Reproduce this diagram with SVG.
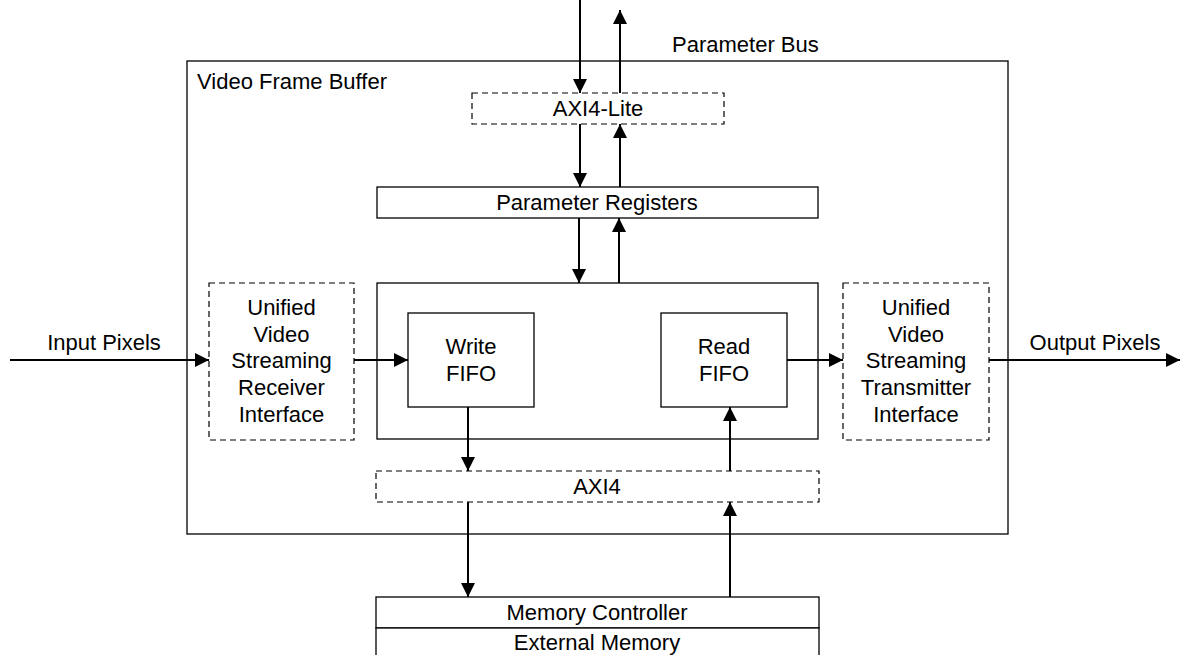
<svg xmlns="http://www.w3.org/2000/svg" width="1180" height="655" viewBox="0 0 1180 655">
  <defs>
    <marker id="arrow" viewBox="0 0 14 14" refX="14" refY="7" markerWidth="14" markerHeight="14" markerUnits="userSpaceOnUse" orient="auto">
      <path d="M0,0 L14,7 L0,14 Z" fill="#000"/>
    </marker>
    <style>
      .box { fill: #fff; stroke: #000; stroke-width: 1.3; }
      .dash { fill: #fff; stroke: #000; stroke-width: 1.2; stroke-dasharray: 6 4; }
      .frame { fill: none; stroke: #000; stroke-width: 1.3; }
      .wire { fill: none; stroke: #000; stroke-width: 2; marker-end: url(#arrow); }
      text { font-family: "Liberation Sans", Arial, sans-serif; font-size: 22px; fill: #000; }
      .c { text-anchor: middle; }
    </style>
  </defs>
  <rect width="1180" height="655" fill="#fff"/>

  <!-- enclosing block -->
  <g id="video-frame-buffer">
    <rect class="frame" x="187" y="61" width="821" height="473"/>
    <text x="197" y="89">Video Frame Buffer</text>
  </g>

  <g id="axi4-lite">
    <rect class="dash" x="472" y="93" width="252" height="31"/>
    <text class="c" x="598" y="116">AXI4-Lite</text>
  </g>

  <g id="parameter-registers">
    <rect class="box" x="377" y="187" width="441" height="31"/>
    <text class="c" x="597" y="210">Parameter Registers</text>
  </g>

  <g id="core">
    <rect class="box" x="377" y="283" width="441" height="156"/>
  </g>

  <g id="write-fifo">
    <rect class="box" x="408" y="313" width="126" height="94"/>
    <text class="c" x="471" y="354">Write</text>
    <text class="c" x="471" y="381">FIFO</text>
  </g>

  <g id="read-fifo">
    <rect class="box" x="661" y="313" width="126" height="94"/>
    <text class="c" x="724" y="354">Read</text>
    <text class="c" x="724" y="381">FIFO</text>
  </g>

  <g id="receiver">
    <rect class="dash" x="209" y="283" width="145" height="157"/>
    <text class="c" x="281.5" y="315">Unified</text>
    <text class="c" x="281.5" y="342">Video</text>
    <text class="c" x="281.5" y="368">Streaming</text>
    <text class="c" x="281.5" y="395">Receiver</text>
    <text class="c" x="281.5" y="422">Interface</text>
  </g>

  <g id="transmitter">
    <rect class="dash" x="843" y="283" width="146" height="157"/>
    <text class="c" x="916" y="315">Unified</text>
    <text class="c" x="916" y="342">Video</text>
    <text class="c" x="916" y="368">Streaming</text>
    <text class="c" x="916" y="395">Transmitter</text>
    <text class="c" x="916" y="422">Interface</text>
  </g>

  <g id="axi4">
    <rect class="dash" x="376" y="471" width="443" height="31"/>
    <text class="c" x="597" y="494">AXI4</text>
  </g>

  <g id="memory-controller">
    <rect class="box" x="376" y="597" width="443" height="31"/>
    <text class="c" x="597" y="620">Memory Controller</text>
  </g>

  <g id="external-memory">
    <rect class="box" x="376" y="628" width="443" height="40"/>
    <text class="c" x="597" y="650">External Memory</text>
  </g>

  <!-- signal labels -->
  <g id="labels">
    <text x="672" y="52">Parameter Bus</text>
    <text class="c" x="104" y="350">Input Pixels</text>
    <text class="c" x="1095" y="350">Output Pixels</text>
  </g>

  <g id="connectors">
    <line class="wire" x1="580" y1="0" x2="580" y2="93"/>
    <line class="wire" x1="620" y1="93" x2="620" y2="10"/>
    <line class="wire" x1="580" y1="124" x2="580" y2="187"/>
    <line class="wire" x1="620" y1="187" x2="620" y2="124"/>
    <line class="wire" x1="579" y1="218" x2="579" y2="283"/>
    <line class="wire" x1="619" y1="283" x2="619" y2="218"/>
    <line class="wire" x1="10" y1="360" x2="209" y2="360"/>
    <line class="wire" x1="354" y1="360" x2="408" y2="360"/>
    <line class="wire" x1="787" y1="360" x2="843" y2="360"/>
    <line class="wire" x1="989" y1="360" x2="1180" y2="360"/>
    <line class="wire" x1="468" y1="407" x2="468" y2="471"/>
    <line class="wire" x1="730" y1="471" x2="730" y2="407"/>
    <line class="wire" x1="468" y1="502" x2="468" y2="597"/>
    <line class="wire" x1="730" y1="597" x2="730" y2="502"/>
  </g>
</svg>
